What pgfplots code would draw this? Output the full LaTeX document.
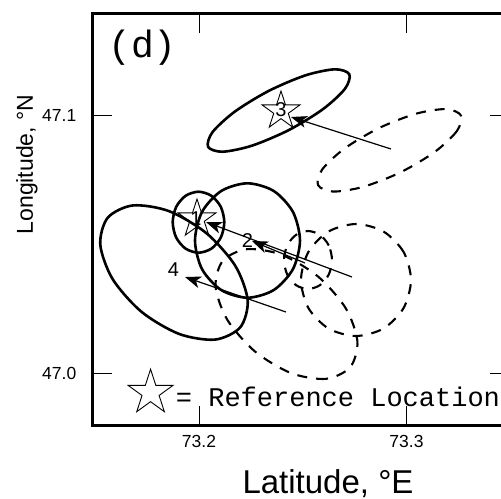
\documentclass[border=0pt]{standalone}
\usepackage{pgfplots}
\pgfplotsset{compat=1.18}
\usetikzlibrary{arrows.meta}
\usepackage{fontspec}
\setmainfont{Liberation Sans}
\newfontfamily\mono{Liberation Mono}
\pgfdeclareplotmark{ostar}{%
 \pgfpathmoveto{\pgfpointpolar{90}{\pgfplotmarksize}}%
 \pgfpathlineto{\pgfpointpolar{126}{0.382*\pgfplotmarksize}}%
 \pgfpathlineto{\pgfpointpolar{162}{\pgfplotmarksize}}%
 \pgfpathlineto{\pgfpointpolar{198}{0.382*\pgfplotmarksize}}%
 \pgfpathlineto{\pgfpointpolar{234}{\pgfplotmarksize}}%
 \pgfpathlineto{\pgfpointpolar{270}{0.382*\pgfplotmarksize}}%
 \pgfpathlineto{\pgfpointpolar{306}{\pgfplotmarksize}}%
 \pgfpathlineto{\pgfpointpolar{342}{0.382*\pgfplotmarksize}}%
 \pgfpathlineto{\pgfpointpolar{18}{\pgfplotmarksize}}%
 \pgfpathlineto{\pgfpointpolar{54}{0.382*\pgfplotmarksize}}%
 \pgfpathclose\pgfusepathqstroke}
\begin{document}
\begin{tikzpicture}
\begin{axis}[
  at={(92.3bp,73.3bp)}, anchor=south west,
  scale only axis, width=417.7bp, height=412.4bp,
  xmin=73.14858, xmax=73.34988, ymin=46.97981, ymax=47.13935,
  xtick={73.2,73.3}, xticklabels={73.2,73.3},
  ytick={47.0,47.1}, yticklabels={47.0,47.1},
  /pgf/number format/assume math mode=true,
  tick align=inside, major tick length=20bp,
  tick style={line width=0.9bp, black},
  axis line style={line width=2.6bp},
  ticklabel style={font=\fontsize{17.5bp}{20bp}\selectfont},
  xticklabel style={yshift=-6bp},
  yticklabel style={xshift=-12.5bp},
  xlabel={Latitude, °E},
  xlabel style={at={(axis description cs:0.5643,-0.1644)}, anchor=base, font=\fontsize{33bp}{36bp}\selectfont},
  ylabel={Longitude, °N},
  ylabel style={at={(axis description cs:-0.14197,0.6334)}, anchor=base, font=\fontsize{23bp}{26bp}\selectfont},
  legend cell align=left,
  legend style={draw=none, fill=none, inner sep=0pt, column sep=3bp,
    nodes={inner sep=0pt}, font=\mono\fontsize{27bp}{30bp}\selectfont,
    at={(0.0855,0.1375)}, anchor=north west},
  solidE/.style={black, line width=2.6bp, smooth cycle, no markers, forget plot},
  dashE/.style={black, line width=2.1bp, dash pattern=on 10bp off 9bp, smooth cycle, no markers, forget plot},
  arr/.style={black, line width=1.2bp, no markers, forget plot, -{Stealth[length=16bp,width=12bp,inset=4.5bp]}},
]
% legend: reference location symbol
\addlegendimage{only marks, mark=ostar, mark size=23.5bp, mark options={line width=0.9bp, black, yshift=4.5bp}}
\addlegendentry{= Reference Location}
% solid ellipse 3
\addplot[solidE] coordinates {(73.27244,47.11578) (73.27031,47.11011) (73.25963,47.10220) (73.24326,47.09417) (73.22559,47.08816) (73.21136,47.08580) (73.20438,47.08770) (73.20651,47.09337) (73.21720,47.10128) (73.23356,47.10931) (73.25123,47.11532) (73.26546,47.11768)};
% dashed ellipse 3
\addplot[dashE] coordinates {(73.32624,47.09982) (73.32423,47.09374) (73.31353,47.08567) (73.29701,47.07779) (73.27909,47.07220) (73.26459,47.07039) (73.25738,47.07286) (73.25939,47.07894) (73.27009,47.08701) (73.28662,47.09490) (73.30453,47.10049) (73.31903,47.10229)};
% solid ellipse 1
\addplot[solidE] coordinates {(73.21219,47.05853) (73.21053,47.06443) (73.20598,47.06875) (73.19976,47.07033) (73.19354,47.06875) (73.18899,47.06443) (73.18733,47.05853) (73.18899,47.05263) (73.19354,47.04831) (73.19976,47.04673) (73.20598,47.04831) (73.21053,47.05263)};
% solid ellipse 2
\addplot[solidE] coordinates {(73.24867,47.05145) (73.24528,47.06251) (73.23602,47.07061) (73.22337,47.07358) (73.21072,47.07061) (73.20146,47.06251) (73.19807,47.05145) (73.20146,47.04039) (73.21072,47.03229) (73.22337,47.02932) (73.23602,47.03229) (73.24528,47.04039)};
% solid ellipse 4
\addplot[solidE] coordinates {(73.21993,47.01791) (73.20783,47.01313) (73.19040,47.01531) (73.17232,47.02385) (73.15842,47.03647) (73.15244,47.04978) (73.15597,47.06023) (73.16807,47.06501) (73.18550,47.06283) (73.20358,47.05429) (73.21748,47.04167) (73.22346,47.02836)};
% dashed ellipse 1
\addplot[dashE] coordinates {(73.30217,47.03617) (73.29861,47.04700) (73.28891,47.05493) (73.27566,47.05783) (73.26241,47.05493) (73.25271,47.04700) (73.24915,47.03617) (73.25271,47.02534) (73.26241,47.01741) (73.27566,47.01451) (73.28891,47.01741) (73.29861,47.02534)};
% dashed ellipse 2
\addplot[dashE] coordinates {(73.26410,47.04391) (73.26255,47.04952) (73.25831,47.05363) (73.25253,47.05513) (73.24675,47.05363) (73.24251,47.04952) (73.24096,47.04391) (73.24251,47.03830) (73.24675,47.03419) (73.25253,47.03269) (73.25831,47.03419) (73.26255,47.03830)};
% dashed ellipse 4
\addplot[dashE] coordinates {(73.27290,47.00247) (73.26123,46.99794) (73.24445,47.00013) (73.22706,47.00846) (73.21372,47.02068) (73.20800,47.03354) (73.21144,47.04357) (73.22311,47.04810) (73.23989,47.04591) (73.25728,47.03759) (73.27063,47.02536) (73.27634,47.01250)};
% arrows (relocation vectors)
\addplot[arr] coordinates {(73.29253,47.08685) (73.24434,47.09923)};
\addplot[arr] coordinates {(73.27373,47.03733) (73.20337,47.05861)};
\addplot[arr] coordinates {(73.25108,47.04275) (73.22554,47.05126)};
\addplot[arr] coordinates {(73.24193,47.02379) (73.19325,47.03733)};
% reference locations
\addplot[only marks, mark=ostar, mark size=20bp, mark options={line width=0.9bp, black}, forget plot] coordinates {(73.23952,47.10155) (73.19904,47.05977)};
% event numbers
\addplot[draw=none, no markers, forget plot, nodes near coords, point meta=explicit symbolic,
  every node near coord/.style={anchor=center, font=\fontsize{20bp}{22bp}\selectfont, inner sep=0pt}]
  table[meta=lab] {
x y lab
73.19855 47.05977 1
73.22337 47.05126 2
73.23952 47.10193 3
73.18771 47.04004 4
};
\end{axis}
\node[font=\mono\fontsize{38bp}{40bp}\selectfont, anchor=center, inner sep=0pt] at (142.5bp,451.5bp) {(d)};
\pgfresetboundingbox
\useasboundingbox (0,0) rectangle (501bp,499bp);
\end{tikzpicture}
\end{document}
